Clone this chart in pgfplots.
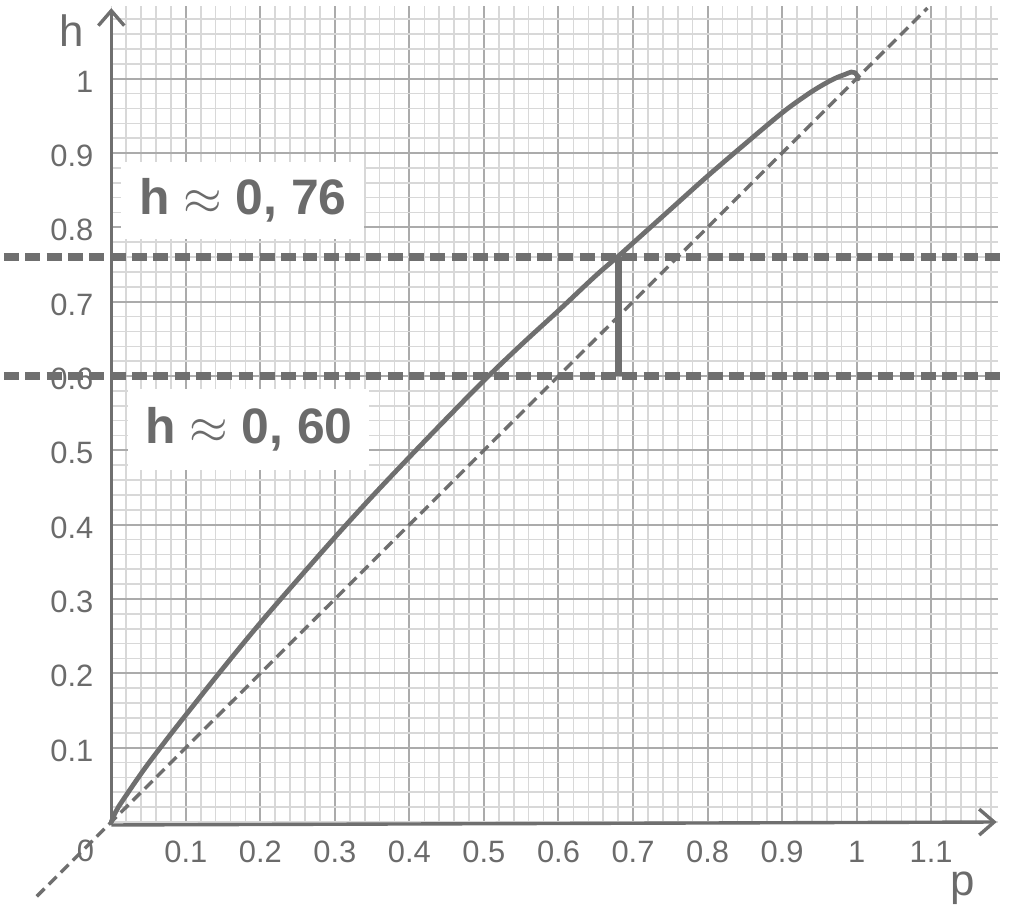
\documentclass[border=0pt]{standalone}
\usepackage{pgfplots}
\pgfplotsset{compat=1.18}
\usepackage{fontspec}
\setmainfont{Liberation Sans}
\usetikzlibrary{arrows.meta}
\definecolor{lg}{HTML}{6F6F6F}
\definecolor{tg}{HTML}{6B6B6B}
\definecolor{gmaj}{HTML}{ABABAB}
\definecolor{gmin}{HTML}{D8D8D8}
\begin{document}
\begin{tikzpicture}
\begin{axis}[
  scale only axis, width=445.06pt, height=409.55pt,
  xmin=0, xmax=1.19, ymin=0, ymax=1.098,
  clip=false,
  axis line style={draw=none},
  xtick={0.1,0.2,0.3,0.4,0.5,0.6,0.7,0.8,0.9,1,1.1},
  ytick={0.1,0.2,0.3,0.4,0.5,0.6,0.7,0.8,0.9,1},
  minor xtick={0,0.02,...,1.185},
  minor ytick={0,0.02,...,1.085},
  grid=both,
  major grid style={gmaj, line width=1pt},
  minor grid style={gmin, line width=0.8pt},
  major tick length=0pt, minor tick length=0pt,
  ticklabel style={font=\fontsize{15.5}{18}\selectfont, text=tg},
  /pgf/number format/assume math mode=true,
  xticklabel style={yshift=-6pt},
  yticklabel style={xshift=-5.5pt, yshift=-1.5pt},
]
\path (axis cs:-0.1444,-0.1260) rectangle (axis cs:1.2246,1.1059);
\draw[lg, line width=1.7pt, -{Straight Barb[length=7.5pt,width=13pt]}] (axis cs:0,-0.004) -- (axis cs:1.188,0);
\draw[lg, line width=1.7pt, -{Straight Barb[length=7.5pt,width=13pt]}] (axis cs:0,-0.004) -- (axis cs:0,1.095);

\addplot[lg, line width=1.7pt, dash pattern=on 5.5pt off 3pt] coordinates {(-0.1,-0.1) (1.095,1.095)};
\addplot[lg, line width=4pt, dash pattern=on 7.5pt off 3.2pt] coordinates {(-0.144,0.76) (1.193,0.76)};
\addplot[lg, line width=4pt, dash pattern=on 7.5pt off 3.2pt] coordinates {(-0.144,0.60) (1.193,0.60)};
\addplot[lg, line width=3.5pt] coordinates {(0.68,0.6) (0.68,0.76)};

\addplot[lg, line width=2.4pt, line join=round, line cap=round, smooth, tension=0.6] coordinates {
(0,0) (0.005,0.012) (0.01,0.021) (0.02,0.036) (0.035,0.058) (0.05,0.079)
(0.075,0.112) (0.1,0.144) (0.15,0.207) (0.2,0.268) (0.25,0.326) (0.3,0.383)
(0.35,0.438) (0.4,0.491) (0.45,0.543) (0.5,0.594) (0.55,0.642) (0.6,0.688)
(0.65,0.735) (0.68,0.761) (0.7,0.779) (0.75,0.824) (0.8,0.869) (0.85,0.912)
(0.9,0.954) (0.93,0.976) (0.95,0.989) (0.97,1.0) (0.985,1.006) (0.993,1.009)
(0.998,1.008) (1.001,1.004) (1.002,1.0)};

\node[fill=white, inner sep=0pt, minimum width=122pt, minimum height=38.5pt, text=tg, font=\fontsize{25}{30}\selectfont\bfseries] at (axis cs:0.1765,0.8358) {h $\approx$ 0, 76};
\node[fill=white, inner sep=0pt, minimum width=121pt, minimum height=41pt, text=tg, font=\fontsize{25}{30}\selectfont\bfseries] at (axis cs:0.1845,0.5282) {h $\approx$ 0, 60};

\node[text=tg, font=\fontsize{22}{26}\selectfont] at (axis cs:-0.0535,1.0644) {h};
\node[text=tg, font=\fontsize{22}{26}\selectfont] at (axis cs:1.1417,-0.0898) {p};
\node[text=tg, font=\fontsize{15.5}{18}\selectfont] at (axis cs:-0.0347,-0.039) {0};
\end{axis}
\end{tikzpicture}
\end{document}
